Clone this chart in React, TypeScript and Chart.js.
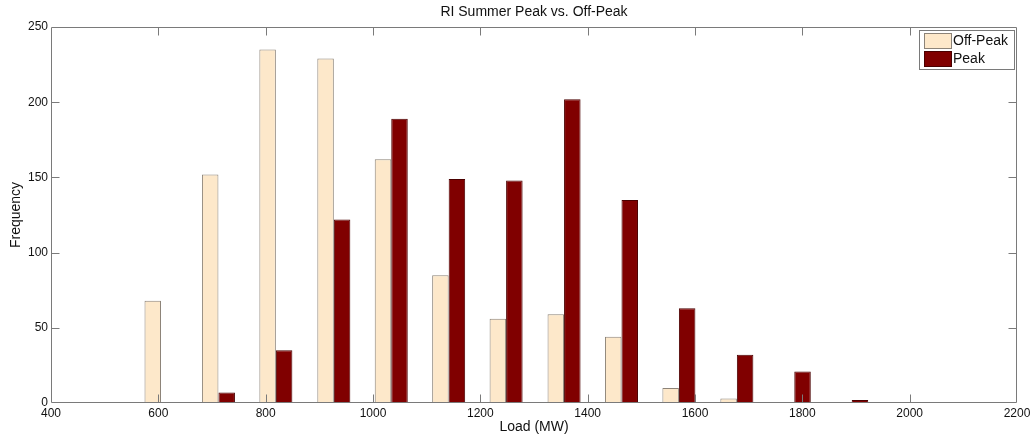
import React, { useEffect, useRef } from "react";
import { Chart, registerables } from "chart.js";

Chart.register(...registerables);

const binCenters = [605, 712, 819, 927, 1034, 1141, 1248, 1356, 1463, 1570, 1678, 1785, 1892];
const offPeak = [68, 152, 235, 229, 162, 85, 56, 59, 44, 10, 3, 0, 0];
const peak = [0, 7, 35, 122, 189, 149, 148, 202, 135, 63, 32, 21, 2];
const seriesLabels = ["Off-Peak", "Peak"];
const chartTitle = "RI Summer Peak vs. Off-Peak";
const xTitle = "Load (MW)";
const yTitle = "Frequency";

const FONT = "'Liberation Sans', Arial, sans-serif";
const OFF_FILL = "#FDE8CA";
const OFF_BORDER = "#8c8378";
const PEAK_FILL = "#800000";
const PEAK_BORDER = "#4a0000";
const AXIS = "#7a7a7a";

const axisBoxPlugin = {
  id: "axisBox",
  afterDatasetsDraw(chart: any) {
    const { ctx, chartArea } = chart;
    const { left, right, top, bottom } = chartArea;
    const xs = chart.scales.x;
    const ys = chart.scales.y;
    const L = Math.round(left) + 0.5;
    const R = Math.round(right) - 0.5;
    const T = Math.round(top) + 0.5;
    const B = Math.round(bottom) - 0.5;
    ctx.save();
    ctx.strokeStyle = AXIS;
    ctx.lineWidth = 1;
    ctx.beginPath();
    ctx.rect(L, T, R - L, B - T);
    const tl = 8;
    xs.ticks.forEach((t: any) => {
      const px = Math.round(xs.getPixelForValue(t.value)) + 0.5;
      if (px <= L + 1 || px >= R - 1) return;
      ctx.moveTo(px, B);
      ctx.lineTo(px, B - tl);
      ctx.moveTo(px, T);
      ctx.lineTo(px, T + tl);
    });
    ys.ticks.forEach((t: any) => {
      const py = Math.round(ys.getPixelForValue(t.value)) + 0.5;
      if (py <= T + 1 || py >= B - 1) return;
      ctx.moveTo(L, py);
      ctx.lineTo(L + tl, py);
      ctx.moveTo(R, py);
      ctx.lineTo(R - tl, py);
    });
    ctx.stroke();

    // legend inside the axes, top right
    const bx = 919.5, by = 30.5, bw = 95, bh = 39;
    ctx.fillStyle = "#ffffff";
    ctx.fillRect(bx, by, bw, bh);
    ctx.strokeStyle = AXIS;
    ctx.strokeRect(bx, by, bw, bh);
    const ds = chart.data.datasets;
    ds.forEach((d: any, i: number) => {
      const sy = 33.5 + i * 18;
      ctx.fillStyle = d.backgroundColor;
      ctx.fillRect(924.5, sy, 27, 15);
      ctx.strokeStyle = d.borderColor;
      ctx.strokeRect(924.5, sy, 27, 15);
      ctx.fillStyle = "#111";
      ctx.font = `14px ${FONT}`;
      ctx.textBaseline = "middle";
      ctx.textAlign = "left";
      ctx.fillText(d.label, 953, sy + 8);
    });
    ctx.restore();
  },
};

export default function App() {
  const ref = useRef<HTMLCanvasElement>(null);
  useEffect(() => {
    if (!ref.current) return;
    const bw = (ctx: any) => (ctx.raw && ctx.raw.y === 0 ? 0 : 1);
    const chart = new Chart(ref.current, {
      type: "bar",
      data: {
        datasets: [
          {
            label: seriesLabels[0],
            data: binCenters.map((x, i) => ({ x, y: offPeak[i] })),
            backgroundColor: OFF_FILL,
            borderColor: OFF_BORDER,
            borderWidth: bw,
            borderSkipped: false,
          },
          {
            label: seriesLabels[1],
            data: binCenters.map((x, i) => ({ x, y: peak[i] })),
            backgroundColor: PEAK_FILL,
            borderColor: PEAK_BORDER,
            borderWidth: bw,
            borderSkipped: false,
          },
        ],
      } as any,
      options: {
        animation: false,
        responsive: false,
        devicePixelRatio: 1,
        categoryPercentage: 0.575,
        barPercentage: 1,
        layout: { padding: { left: 0, right: 19, top: 0, bottom: 0 } },
        plugins: {
          legend: { display: false },
          tooltip: { enabled: false },
          title: {
            display: true,
            text: chartTitle,
            fullSize: false,
            color: "#111",
            font: { family: FONT, size: 14, weight: "normal" as any, lineHeight: 1.2 },
            padding: { top: 4, bottom: 6.2 },
          },
        },
        scales: {
          x: {
            type: "linear",
            min: 400,
            max: 2200,
            offset: false,
            grid: { display: false, drawTicks: false },
            border: { display: false },
            ticks: {
              stepSize: 200,
              autoSkip: false,
              maxRotation: 0,
              padding: 3,
              color: "#111",
              font: { family: FONT, size: 12 },
              callback: (v: any) => String(v),
            },
            title: {
              display: true,
              text: xTitle,
              color: "#111",
              font: { family: FONT, size: 14, lineHeight: 1.2 },
              padding: { top: 0, bottom: 6.6 },
            },
            afterFit: (s: any) => {
              s.height = 39;
            },
          },
          y: {
            min: 0,
            max: 250,
            grid: { display: false, drawTicks: false },
            border: { display: false },
            ticks: {
              stepSize: 50,
              padding: 3,
              color: "#111",
              font: { family: FONT, size: 12 },
              callback: (v: any) => String(v),
            },
            title: {
              display: true,
              text: yTitle,
              color: "#111",
              font: { family: FONT, size: 14, lineHeight: 1.2 },
              padding: { top: 7.6, bottom: 0 },
            },
            afterFit: (s: any) => {
              s.width = 51;
            },
          },
        } as any,
      },
      plugins: [axisBoxPlugin],
    });
    return () => chart.destroy();
  }, []);
  return (
    <div style={{ position: "fixed", left: 0, top: 0, width: 1036, height: 442, background: "#fff" }}>
      <canvas ref={ref} width={1036} height={442} style={{ width: 1036, height: 442, display: "block" }} />
    </div>
  );
}
